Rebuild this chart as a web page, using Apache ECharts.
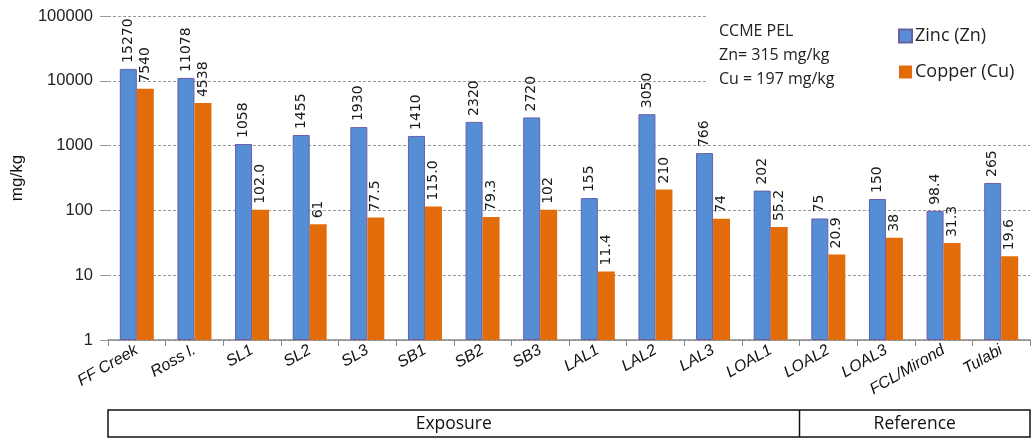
<!DOCTYPE html>
<html>
<head>
<meta charset="utf-8">
<script src="https://cdn.jsdelivr.net/npm/echarts@6/dist/echarts.min.js"></script>
<style>
  html, body { margin: 0; padding: 0; background: #fff; }
  #chart { width: 1033px; height: 440px; }
</style>
</head>
<body>
<div id="chart"></div>
<script>
// Sampling sites
const sites = ['FF Creek', 'Ross l.', 'SL1', 'SL2', 'SL3', 'SB1', 'SB2', 'SB3',
  'LAL1', 'LAL2', 'LAL3', 'LOAL1', 'LOAL2', 'LOAL3', 'FCL/Mirond', 'Tulabi'];
// Sediment concentrations, mg/kg
const zinc = [15270, 11078, 1058, 1455, 1930, 1410, 2320, 2720, 155, 3050, 766, 202, 75, 150, 98.4, 265];
const copper = [7540, 4538, 102.0, 61, 77.5, 115.0, 79.3, 102, 11.4, 210, 74, 55.2, 20.9, 38, 31.3, 19.6];
// Decimal places shown in the value labels
const zincDecimals = [0, 0, 0, 0, 0, 0, 0, 0, 0, 0, 0, 0, 0, 0, 1, 0];
const copperDecimals = [0, 0, 1, 0, 1, 1, 1, 0, 1, 0, 0, 1, 1, 0, 1, 1];
// Site groups along the bottom
const groups = ['Exposure', 'Reference'];
const groupSizes = [12, 4];
const peLines = ['CCME PEL', 'Zn= 315 mg/kg', 'Cu = 197 mg/kg'];

const W = 1033, H = 440;
const gridLeft = 108, gridRight = 3, gridTop = 16, gridBottom = 100;

const chart = echarts.init(document.getElementById('chart'), null, { renderer: 'canvas' });

function valueLabel(decimals) {
  return {
    show: true,
    position: 'top',
    rotate: 90,
    align: 'left',
    verticalAlign: 'middle',
    distance: 6,
    fontFamily: 'DejaVu Sans',
    fontSize: 14,
    color: '#1a1a1a',
    formatter: p => Number(p.value).toFixed(decimals[p.dataIndex])
  };
}

// Group box under the axis
const plotW = W - gridLeft - gridRight;
const boxTop = 410, boxBottom = 437;
const total = groupSizes.reduce((a, b) => a + b, 0);
const graphics = [];
let acc = 0;
graphics.push({
  type: 'rect', silent: true,
  shape: { x: gridLeft, y: boxTop, width: plotW, height: boxBottom - boxTop },
  style: { fill: 'none', stroke: '#111', lineWidth: 1.5 }
});
groups.forEach((g, i) => {
  const x0 = gridLeft + plotW * acc / total;
  acc += groupSizes[i];
  const x1 = gridLeft + plotW * acc / total;
  if (i > 0) {
    graphics.push({
      type: 'line', silent: true,
      shape: { x1: x0, y1: boxTop, x2: x0, y2: boxBottom },
      style: { stroke: '#111', lineWidth: 1.5 }
    });
  }
  graphics.push({
    type: 'text', silent: true,
    x: (x0 + x1) / 2, y: (boxTop + boxBottom) / 2 + 1,
    style: { text: g, fontFamily: 'Open Sans', fontSize: 17.5, fill: '#111',
      align: 'center', verticalAlign: 'middle' }
  });
});
// PEL note box, covering the gridlines behind it
graphics.push({
  type: 'rect', silent: true, z: 100,
  shape: { x: 706, y: 8, width: 325, height: 86 },
  style: { fill: '#fff' }
});
peLines.forEach((t, i) => {
  graphics.push({
    type: 'text', silent: true, z: 101,
    x: 719, y: 31 + i * 24,
    style: { text: t, fontFamily: 'Open Sans', fontSize: 16, fill: '#222',
      verticalAlign: 'middle' }
  });
});

chart.setOption({
  animation: false,
  backgroundColor: '#fff',
  grid: { left: gridLeft, right: gridRight, top: gridTop, bottom: gridBottom },
  legend: {
    orient: 'vertical',
    left: 893, top: 22,
    itemWidth: 13, itemHeight: 13,
    itemGap: 18,
    icon: 'rect',
    z: 110,
    textStyle: { fontFamily: 'Open Sans', fontSize: 18, color: '#222', padding: [0, 0, 0, -2] }
  },
  xAxis: {
    type: 'category',
    data: sites,
    axisLine: { lineStyle: { color: '#888', width: 1.5 } },
    axisTick: { show: true, length: 6, lineStyle: { color: '#888' } },
    axisLabel: {
      interval: 0, rotate: 30, margin: 9,
      fontFamily: 'Liberation Sans', fontStyle: 'italic', fontSize: 16, color: '#111'
    }
  },
  yAxis: {
    type: 'log',
    logBase: 10,
    min: 1, max: 100000,
    name: 'mg/kg',
    nameLocation: 'middle',
    nameGap: 82,
    nameRotate: 90,
    nameTextStyle: { fontFamily: 'Liberation Sans', fontSize: 17, color: '#111' },
    axisLine: { show: false },
    axisTick: { show: true, length: 8, lineStyle: { color: '#999' } },
    axisLabel: {
      fontFamily: 'Liberation Sans', fontSize: 16.5, color: '#222', margin: 15,
      formatter: v => String(Math.round(v))
    },
    splitLine: { lineStyle: { color: '#999', type: [3, 2], width: 1 } }
  },
  series: [
    {
      name: 'Zinc (Zn)',
      type: 'bar',
      data: zinc,
      barWidth: 17,
      barGap: '0%',
      itemStyle: { color: '#558ed5', borderColor: '#6a5fa6', borderWidth: 1 },
      label: valueLabel(zincDecimals)
    },
    {
      name: 'Copper (Cu)',
      type: 'bar',
      data: copper,
      barWidth: 17,
      itemStyle: { color: '#e36c0a' },
      label: valueLabel(copperDecimals)
    }
  ],
  graphic: graphics
});
</script>
</body>
</html>
